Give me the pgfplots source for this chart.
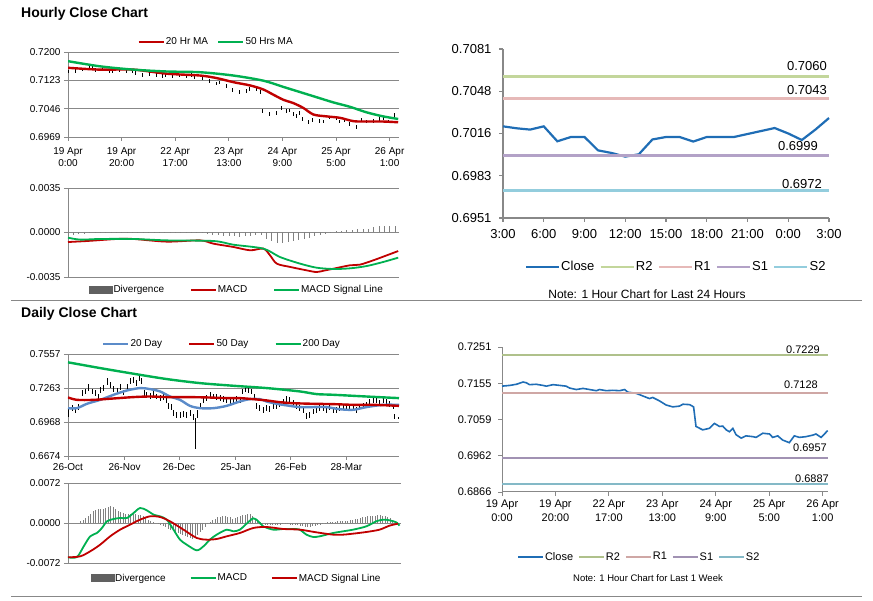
\documentclass[border=0pt]{standalone}
\usepackage{pgfplots}
\pgfplotsset{compat=1.18}
\usepackage{pgfplotstable}
\usepackage{fontspec}
\setmainfont{Liberation Sans}

\definecolor{exRed}{HTML}{C00000}
\definecolor{exGreen}{HTML}{00B050}
\definecolor{dBlue}{HTML}{5B8BC9}
\definecolor{cBlue}{HTML}{1F6DB5}
\definecolor{rTwo}{HTML}{C3D69B}
\definecolor{rOne}{HTML}{E6B9B8}
\definecolor{sOne}{HTML}{B3A2C7}
\definecolor{sTwo}{HTML}{93CDDD}
\definecolor{axGray}{HTML}{888888}
\definecolor{divGray}{HTML}{606060}

\pgfplotstableread{
x y
0 0.7147
2.9 0.7149
5.4 0.7152
7.9 0.7158
9.1 0.7156
10.3 0.7151
12.8 0.7152
15.3 0.7149
16.6 0.7147
19.1 0.7151
21.6 0.7149
24.0 0.7147
25.3 0.7142
27.8 0.7138
30.3 0.7141
32.8 0.7138
35.3 0.7135
36.5 0.7138
39.0 0.7135
41.5 0.7136
44.0 0.7135
45.9 0.7138
47.1 0.7131
50.2 0.7128
52.7 0.7121
55.2 0.7114
56.4 0.7117
58.9 0.7108
61.4 0.7097
63.9 0.7092
66.4 0.7094
67.7 0.7099
70.2 0.7098
71.7 0.7092
72.6 0.7040
75.1 0.7031
77.6 0.7035
79.5 0.7048
81.4 0.7040
82.6 0.7041
83.9 0.7031
85.1 0.7026
86.4 0.7035
87.6 0.7018
89.5 0.7009
91.3 0.7015
93.8 0.7013
95.1 0.7011
97.6 0.7022
100.1 0.7020
101.3 0.7011
103.2 0.7015
105.0 0.7004
107.5 0.6997
109.4 0.7015
111.3 0.7011
113.8 0.7013
116.3 0.7017
117.5 0.7020
119.4 0.7011
121.9 0.7029
}\hourly

\pgfplotstableread{
x y ep em
0.3 0.7059 0.0030 0.0050
1.6 0.7088 0.0025 0.0025
2.9 0.7074 0.0025 0.0025
4.3 0.7097 0.0025 0.0025
5.6 0.7218 0.0030 0.0025
6.9 0.7233 0.0025 0.0025
8.3 0.7270 0.0025 0.0030
9.6 0.7233 0.0025 0.0025
10.9 0.7218 0.0025 0.0025
12.3 0.7189 0.0025 0.0025
12.9 0.7247 0.0025 0.0025
14.3 0.7262 0.0025 0.0025
15.6 0.7320 0.0025 0.0030
16.9 0.7291 0.0025 0.0025
18.3 0.7253 0.0025 0.0025
19.6 0.7241 0.0025 0.0025
20.9 0.7270 0.0025 0.0025
22.3 0.7224 0.0025 0.0025
23.6 0.7270 0.0025 0.0025
24.9 0.7320 0.0025 0.0025
26.3 0.7334 0.0025 0.0025
27.6 0.7305 0.0025 0.0025
28.7 0.7357 0.0025 0.0030
29.6 0.7320 0.0025 0.0025
30.5 0.7218 0.0025 0.0025
31.6 0.7204 0.0025 0.0025
32.9 0.7195 0.0025 0.0025
34.3 0.7212 0.0025 0.0025
35.6 0.7189 0.0025 0.0025
36.9 0.7175 0.0025 0.0025
38.3 0.7184 0.0025 0.0025
39.6 0.7160 0.0025 0.0025
40.3 0.7108 0.0025 0.0025
41.6 0.7102 0.0025 0.0030
42.3 0.7045 0.0025 0.0025
43.6 0.7030 0.0025 0.0025
44.9 0.7030 0.0025 0.0025
46.3 0.7036 0.0025 0.0025
47.6 0.7030 0.0025 0.0025
48.9 0.7045 0.0025 0.0025
50.3 0.7016 0.0025 0.0030
51.1 0.6972 0.0030 0.0240
51.9 0.7045 0.0025 0.0040
52.9 0.7108 0.0025 0.0025
54.3 0.7160 0.0025 0.0025
55.6 0.7175 0.0025 0.0025
56.9 0.7204 0.0025 0.0025
58.3 0.7189 0.0025 0.0025
59.6 0.7184 0.0025 0.0025
60.9 0.7175 0.0025 0.0025
62.3 0.7166 0.0025 0.0025
63.6 0.7160 0.0025 0.0025
64.9 0.7146 0.0025 0.0025
66.3 0.7146 0.0025 0.0030
67.6 0.7166 0.0025 0.0025
68.9 0.7160 0.0025 0.0025
70.0 0.7233 0.0025 0.0025
70.9 0.7253 0.0025 0.0025
72.3 0.7247 0.0025 0.0025
73.6 0.7233 0.0025 0.0025
74.9 0.7189 0.0025 0.0025
75.6 0.7108 0.0025 0.0025
76.9 0.7088 0.0025 0.0025
78.3 0.7074 0.0025 0.0025
79.6 0.7088 0.0025 0.0025
80.9 0.7079 0.0025 0.0025
82.3 0.7108 0.0025 0.0025
83.6 0.7102 0.0025 0.0025
84.9 0.7126 0.0025 0.0025
86.3 0.7146 0.0025 0.0025
87.6 0.7166 0.0025 0.0025
88.9 0.7160 0.0025 0.0025
90.3 0.7131 0.0025 0.0025
91.6 0.7102 0.0025 0.0025
92.9 0.7088 0.0025 0.0025
94.3 0.7074 0.0025 0.0025
95.6 0.7021 0.0025 0.0025
96.9 0.7030 0.0025 0.0025
98.3 0.7059 0.0025 0.0025
99.6 0.7074 0.0025 0.0025
100.9 0.7088 0.0025 0.0025
102.3 0.7088 0.0025 0.0025
103.6 0.7074 0.0025 0.0025
104.9 0.7097 0.0025 0.0025
106.3 0.7074 0.0025 0.0025
107.6 0.7074 0.0025 0.0025
108.9 0.7088 0.0025 0.0025
110.3 0.7102 0.0025 0.0025
111.6 0.7097 0.0025 0.0025
112.9 0.7097 0.0025 0.0025
114.3 0.7088 0.0025 0.0025
115.6 0.7074 0.0025 0.0025
116.9 0.7102 0.0025 0.0025
118.3 0.7108 0.0025 0.0025
119.6 0.7117 0.0025 0.0025
120.9 0.7146 0.0025 0.0025
122.3 0.7160 0.0025 0.0025
123.6 0.7160 0.0025 0.0025
124.9 0.7131 0.0025 0.0025
126.3 0.7155 0.0025 0.0025
127.6 0.7146 0.0025 0.0025
128.9 0.7126 0.0025 0.0025
130.3 0.7102 0.0025 0.0025
130.9 0.7016 0.0025 0.0025
132.3 0.7001 0.0010 0.0010
}\daily

\pgfplotsset{
  base/.style={scale only axis, anchor=south west,
    axis line style={axGray, line width=0.8pt, -},
    tick style={axGray, line width=0.8pt},
    tick align=outside, major tick length=4pt,
    grid style={axGray, line width=0.8pt},
    axis x line*=bottom, axis y line*=left,
    scaled y ticks=false, scaled x ticks=false,
    legend cell align=left,
    legend style={draw=none, fill=none, legend columns=-1, inner sep=0pt,
      nodes={inner sep=1pt}},
  },
  hlbars/.style={draw=none, mark=none, forget plot,
    error bars/y dir=both,
    error bars/error bar style={draw=black, solid, line width=0.7pt},
    error bars/error mark=none},
}

\begin{document}
\begin{tikzpicture}[x=1pt,y=1pt]
\useasboundingbox (0pt,0pt) rectangle (873pt,601pt);

\node[anchor=base west, font=\fontsize{14}{16}\selectfont\bfseries, inner sep=0pt] at (21pt,583.7pt) {Hourly Close Chart};
\node[anchor=base west, font=\fontsize{14}{16}\selectfont\bfseries, inner sep=0pt] at (21pt,283.7pt) {Daily Close Chart};
\draw[axGray, line width=0.8pt] (11pt,301pt) -- (862pt,301pt);
\draw[axGray, line width=0.8pt] (11pt,4.5pt) -- (862pt,4.5pt);

% ---------- Panel 1: hourly MA ----------
\begin{axis}[base, at={(68pt,464pt)}, width=331pt, height=85pt,
  xmin=0, xmax=123.5, ymin=0.6969, ymax=0.7200,
  ytick={0.6969,0.7046,0.7123,0.7200}, yticklabels={0.6969,0.7046,0.7123,0.7200},
  xtick={0,20,40,60,80,100,120},
  xticklabels={{19 Apr\\0:00},{19 Apr\\20:00},{22 Apr\\17:00},{23 Apr\\13:00},{24 Apr\\9:00},{25 Apr\\5:00},{26 Apr\\1:00}},
  ymajorgrids,
  ticklabel style={font=\fontsize{10}{12}\selectfont},
  xticklabel style={align=center, yshift=-3pt},
  legend image code/.code={\draw[#1] (0pt,0pt) -- (25pt,0pt);},
  legend style={at={(0.446,1.118)}, anchor=center, font=\fontsize{10}{12}\selectfont,
    /tikz/every even column/.append style={column sep=8pt}},
]
\addplot[hlbars, error bars/y fixed=0.0005] table[x=x,y=y] {\hourly};
\addplot[exRed, line width=2.4pt, smooth] coordinates {
(0,0.7157) (12.0,0.7152) (24.5,0.7152) (36.9,0.7141) (49.3,0.7136) (55.5,0.7129)
(61.7,0.7118) (68.0,0.7109) (72.9,0.7098) (76.6,0.7084) (80.4,0.7070) (84.1,0.7061)
(87.8,0.7048) (91.6,0.7030) (96.5,0.7025) (101.5,0.7021) (106.5,0.7012) (111.4,0.7011)
(117.6,0.7011) (123.2,0.7009)};
\addlegendentry{20 Hr MA}
\addplot[exGreen, line width=2.4pt, smooth] coordinates {
(0,0.7175) (12.0,0.7161) (24.5,0.7152) (36.9,0.7147) (49.3,0.7145) (61.7,0.7136)
(72.9,0.7122) (80.4,0.7105) (86.6,0.7091) (92.8,0.7077) (99.0,0.7063) (105.2,0.7051)
(111.4,0.7036) (117.6,0.7025) (123.2,0.7018)};
\addlegendentry{50 Hrs MA}
\end{axis}

% ---------- Panel 1b: hourly MACD ----------
\begin{axis}[base, at={(68pt,324pt)}, width=331pt, height=89pt,
  xmin=0, xmax=123.5, ymin=-0.0035, ymax=0.0035,
  ytick={-0.0035,0,0.0035}, yticklabels={-0.0035,0.0000,0.0035},
  xtick=\empty, ymajorgrids,
  ticklabel style={font=\fontsize{10}{12}\selectfont},
  legend image code/.code={\draw[#1] (0pt,0pt) -- (25pt,0pt);},
  legend style={at={(0.509,-0.146)}, anchor=center, font=\fontsize{10}{12}\selectfont,
    /tikz/every even column/.append style={column sep=25pt}},
]
\addplot[ycomb, divGray!80, line width=0.5pt, forget plot] coordinates {
(0,-0.0003) (2,-0.0002) (4,-0.00015) (6,-0.0001) (8,-0.00005) (10,-0.00005) (12,-0.00005)
(14,-0.00005) (16,-0.00005) (18,-0.00005) (20,-0.00005) (22,-0.00005) (24,-0.00005)
(26,-0.00005) (28,-0.00005) (30,-0.00005) (32,-0.00005) (34,-0.00005) (36,-0.00005)
(38,-0.00005) (40,-0.00005) (42,-0.00005) (44,-0.00005) (46,-0.00005) (48,-0.00005)
(50,-0.00005) (52,-0.0001) (54,-0.0002) (56,-0.0002) (58,-0.00025) (60,-0.0003)
(62,-0.0003) (64,-0.00035) (66,-0.0003) (68,-0.0003) (70,-0.0002) (72,-0.0002)
(74,-0.0005) (76,-0.0007) (78,-0.0008) (80,-0.0008) (82,-0.00075) (84,-0.0007)
(86,-0.0006) (88,-0.0005) (90,-0.0004) (92,-0.0003) (94,-0.0002) (96,-0.0001)
(98,0.00005) (100,0.0001) (102,0.00015) (104,0.0002) (106,0.0002) (108,0.00025)
(110,0.0003) (112,0.0003) (114,0.0004) (116,0.0005) (118,0.0005) (120,0.0005) (122,0.0005)};
\addlegendimage{legend image code/.code={\fill[divGray] (0pt,-3.5pt) rectangle (23pt,3.5pt);}}
\addlegendentry{Divergence}
\addplot[exRed, line width=1.8pt, smooth] coordinates {
(0,-0.00075) (7.1,-0.00067) (18.3,-0.00051) (24.5,-0.00051) (36.9,-0.00072) (49.3,-0.00062)
(54.3,-0.00088) (61.7,-0.00114) (68.0,-0.00140) (72.9,-0.00127) (75.4,-0.00180)
(77.9,-0.00245) (82.9,-0.00271) (89.1,-0.00298) (92.8,-0.00311) (95.9,-0.00298)
(99.0,-0.00285) (105.2,-0.00258) (108.9,-0.00253) (113.9,-0.00219) (118.9,-0.00180)
(123.2,-0.00146)};
\addlegendentry{MACD}
\addplot[exGreen, line width=1.8pt, smooth] coordinates {
(0,-0.00041) (4.6,-0.00056) (12.0,-0.00051) (24.5,-0.00051) (36.9,-0.00062) (54.3,-0.00067)
(61.7,-0.00096) (72.9,-0.00127) (79.1,-0.00193) (86.6,-0.00245) (92.8,-0.00277)
(99.0,-0.00287) (105.2,-0.00282) (111.4,-0.00264) (117.6,-0.00232) (123.2,-0.00198)};
\addlegendentry{MACD Signal Line}
\end{axis}

% ---------- Panel 2: last 24 hours ----------
\begin{axis}[base, at={(503pt,383pt)}, width=326pt, height=169pt, clip=false,
  xmin=0, xmax=24, ymin=0.6951, ymax=0.7081,
  axis line style={axGray, line width=1.6pt, -},
  tick style={axGray, line width=1.2pt},
  ytick={0.6951,0.69835,0.7016,0.70485,0.7081},
  yticklabels={0.6951,0.6983,0.7016,0.7048,0.7081},
  xtick={0,3,6,9,12,15,18,21,24},
  xticklabels={3:00,6:00,9:00,12:00,15:00,18:00,21:00,0:00,3:00},
  ticklabel style={font=\fontsize{13}{15}\selectfont},
  yticklabel style={xshift=-4pt},
  xticklabel style={yshift=-4pt},
  legend image code/.code={\draw[#1] (0pt,0pt) -- (33pt,0pt);},
  legend style={at={(0.53,-0.29)}, anchor=center, font=\fontsize{13}{15}\selectfont,
    /tikz/every even column/.append style={column sep=4pt}},
]
\addplot[cBlue, line width=2.2pt] coordinates {
(0,0.70215) (1,0.70200) (2,0.70190) (3,0.70215) (4,0.70100) (5,0.70133) (6,0.70133)
(7,0.70030) (8,0.70010) (9,0.69982) (10,0.70000) (11,0.70114) (12,0.70133) (13,0.70133)
(14,0.70098) (15,0.70133) (16,0.70133) (17,0.70133) (18,0.70156) (19,0.70179)
(20,0.70202) (21,0.70160) (22,0.70110) (23,0.70190) (24,0.70279)};
\addlegendentry{Close}
\addplot[rTwo, line width=2.5pt] coordinates {(0,0.7060) (24,0.7060)};
\addlegendentry{R2}
\addplot[rOne, line width=2.5pt] coordinates {(0,0.7043) (24,0.7043)};
\addlegendentry{R1}
\addplot[sOne, line width=2.5pt] coordinates {(0,0.6999) (24,0.6999)};
\addlegendentry{S1}
\addplot[sTwo, line width=2.5pt] coordinates {(0,0.6972) (24,0.6972)};
\addlegendentry{S2}
\node[anchor=base east, font=\fontsize{13}{15}\selectfont, inner sep=0pt, xshift=-2pt, yshift=6pt] at (axis cs:24,0.7060) {0.7060};
\node[anchor=base east, font=\fontsize{13}{15}\selectfont, inner sep=0pt, xshift=-2pt, yshift=4pt] at (axis cs:24,0.7043) {0.7043};
\node[anchor=base east, font=\fontsize{13}{15}\selectfont, inner sep=0pt, xshift=-11pt, yshift=5pt] at (axis cs:24,0.6999) {0.6999};
\node[anchor=base east, font=\fontsize{13}{15}\selectfont, inner sep=0pt, xshift=-7pt, yshift=2.5pt] at (axis cs:24,0.6972) {0.6972};
\end{axis}
\node[anchor=base, font=\fontsize{12}{14}\selectfont, inner sep=0pt] at (647pt,302.5pt) {Note: 1 Hour Chart for Last 24 Hours};

% ---------- Panel 3: daily ----------
\begin{axis}[base, at={(68pt,145pt)}, width=331pt, height=102pt,
  xmin=0, xmax=132.7, ymin=0.6674, ymax=0.7557,
  ytick={0.6674,0.69683,0.72627,0.7557}, yticklabels={0.6674,0.6968,0.7263,0.7557},
  xtick={0,22.7,44.5,67.3,89.3,111.6},
  xticklabels={26-Oct,26-Nov,26-Dec,25-Jan,26-Feb,28-Mar},
  ymajorgrids,
  ticklabel style={font=\fontsize{10}{12}\selectfont},
  xticklabel style={yshift=0.5pt},
  legend image code/.code={\draw[#1] (0pt,0pt) -- (25pt,0pt);},
  legend style={at={(0.464,1.098)}, anchor=center, font=\fontsize{10}{12}\selectfont,
    /tikz/every even column/.append style={column sep=25pt}},
]
\addplot[hlbars, error bars/y explicit]
  table[x=x, y=y, y error plus=ep, y error minus=em] {\daily};
\addplot[dBlue, line width=2.4pt, smooth] coordinates {
(0,0.7088) (3.6,0.7088) (7.6,0.7126) (12.9,0.7160) (18.3,0.7204) (23.6,0.7241) (28.9,0.7262)
(32.9,0.7253) (36.9,0.7233) (40.9,0.7189) (44.9,0.7160) (48.9,0.7108) (52.9,0.7088)
(58.3,0.7088) (63.6,0.7108) (68.9,0.7146) (72.9,0.7166) (76.9,0.7166) (79.6,0.7146)
(83.6,0.7126) (88.9,0.7108) (92.9,0.7097) (98.3,0.7097) (103.6,0.7097) (108.9,0.7079)
(114.3,0.7074) (119.6,0.7097) (126.3,0.7117) (132.7,0.7117)};
\addlegendentry{20 Day}
\addplot[exRed, line width=2.4pt, smooth] coordinates {
(0,0.7181) (3.6,0.7160) (10.3,0.7160) (18.3,0.7172) (26.3,0.7184) (32.9,0.7189) (39.6,0.7184)
(47.6,0.7184) (55.6,0.7181) (63.6,0.7175) (68.9,0.7175) (74.3,0.7166) (79.6,0.7155)
(84.9,0.7140) (90.3,0.7131) (98.3,0.7126) (106.3,0.7123) (114.3,0.7117) (122.3,0.7117)
(132.7,0.7108)};
\addlegendentry{50 Day}
\addplot[exGreen, line width=2.4pt, smooth] coordinates {
(0,0.7485) (12.9,0.7435) (26.3,0.7386) (39.6,0.7340) (52.9,0.7305) (66.3,0.7282)
(79.6,0.7262) (92.9,0.7233) (99.6,0.7210) (106.3,0.7204) (119.6,0.7189) (132.7,0.7175)};
\addlegendentry{200 Day}
\end{axis}

% ---------- Panel 3b: daily MACD ----------
\begin{axis}[base, at={(68pt,38pt)}, width=333pt, height=80pt,
  xmin=0, xmax=133.5, ymin=-0.0072, ymax=0.0072,
  ytick={-0.0072,0,0.0072}, yticklabels={-0.0072,0.0000,0.0072},
  xtick=\empty, ymajorgrids,
  ticklabel style={font=\fontsize{10}{12}\selectfont},
  legend image code/.code={\draw[#1] (0pt,0pt) -- (25pt,0pt);},
  legend style={at={(0.505,-0.19)}, anchor=center, font=\fontsize{10}{12}\selectfont,
    /tikz/every even column/.append style={column sep=23pt}},
]
\addplot[ycomb, divGray!80, line width=0.5pt, forget plot] coordinates {
(5,0.0003) (6,0.0006) (7,0.0009) (8,0.0012) (9,0.0017) (10,0.0022) (11,0.0024) (12,0.0026)
(13,0.0026) (14,0.0026) (15,0.0027) (16,0.0028) (17,0.0031) (18,0.0028) (19,0.0025)
(20,0.0022) (21,0.0020) (22,0.0018) (23,0.0017) (24,0.0016) (25,0.0016) (26,0.0017)
(27,0.0016) (28,0.0015) (29,0.0014) (30,0.0012) (31,0.0009) (32,0.0006) (33,0.0004)
(34,0.0002) (35,0.0000) (36,-0.0002) (37,-0.0004) (38,-0.0006) (39,-0.0008) (40,-0.0010)
(41,-0.0012) (42,-0.0014) (43,-0.0016) (44,-0.0018) (45,-0.0020) (46,-0.0022) (47,-0.0024)
(48,-0.0026) (49,-0.0027) (50,-0.0028) (51,-0.0026) (52,-0.0022) (53,-0.0017) (54,-0.0012)
(55,-0.0007) (56,-0.0002) (57,0.0002) (58,0.0006) (59,0.0008) (60,0.0010) (61,0.0011)
(62,0.0012) (63,0.0012) (64,0.0011) (65,0.0010) (66,0.0008) (67,0.0009) (68,0.0010)
(69,0.0012) (70,0.0014) (71,0.0015) (72,0.0016) (73,0.0016) (74,0.0012) (75,0.0008)
(76,0.0004) (77,0.0001) (78,-0.0002) (79,-0.0003) (80,-0.0004) (81,-0.0004) (82,-0.0004)
(83,-0.0004) (84,-0.0003) (85,-0.0003) (86,-0.0002) (87,-0.0002) (88,-0.0002) (89,-0.0003)
(90,-0.0003) (91,-0.0004) (92,-0.0004) (93,-0.0005) (94,-0.0006) (95,-0.0007) (96,-0.0007)
(97,-0.0007) (98,-0.0006) (99,-0.0005) (100,-0.0004) (101,-0.0003) (102,-0.0002)
(103,-0.0001) (104,0.0001) (105,0.0001) (106,0.0002) (107,0.0002) (108,0.0003) (109,0.0003)
(110,0.0003) (111,0.0003) (112,0.0004) (113,0.0005) (114,0.0006) (115,0.0007) (116,0.0008)
(117,0.0009) (118,0.0010) (119,0.0011) (120,0.0012) (121,0.0012) (122,0.0013) (123,0.0013)
(124,0.0014) (125,0.0014) (126,0.0013) (127,0.0012) (128,0.0011) (129,0.0009) (130,0.0006)
(131,0.0004) (132,0.0002)};
\addlegendimage{legend image code/.code={\fill[divGray] (0pt,-3.5pt) rectangle (23pt,3.5pt);}}
\addlegendentry{Divergence}
\addplot[exGreen, line width=1.8pt, smooth] coordinates {
(0,-0.00618) (3.6,-0.00612) (6.3,-0.00420) (8.9,-0.00240) (11.6,-0.00180) (13.6,-0.00090)
(15.6,0.00030) (18.3,0.00072) (20.9,0.00090) (23.6,0.00090) (26.3,0.00180) (28.9,0.00270)
(31.6,0.00228) (34.3,0.00150) (36.9,0.00120) (39.6,0.00060) (42.3,-0.00120) (44.9,-0.00300)
(47.6,-0.00390) (51.6,-0.00492) (54.3,-0.00420) (56.9,-0.00300) (59.6,-0.00210)
(63.6,-0.00120) (66.3,-0.00150) (68.9,-0.00120) (71.6,-0.00012) (74.3,0.00084)
(76.3,0.00030) (78.3,-0.00060) (82.3,-0.00120) (86.3,-0.00108) (90.3,-0.00108)
(92.9,-0.00120) (95.6,-0.00210) (98.3,-0.00252) (100.9,-0.00240) (103.6,-0.00210)
(106.3,-0.00180) (110.3,-0.00150) (114.3,-0.00120) (119.6,-0.00060) (123.6,0.00030)
(126.3,0.00060) (128.9,0.00048) (131.6,0.00012) (132.9,-0.00048)};
\addlegendentry{MACD}
\addplot[exRed, line width=1.8pt, smooth] coordinates {
(0,-0.00618) (4.9,-0.00600) (8.9,-0.00510) (12.9,-0.00390) (16.9,-0.00240) (20.9,-0.00120)
(24.9,-0.00030) (28.9,0.00060) (32.9,0.00120) (36.9,0.00108) (40.9,0.00030) (46.3,-0.00120)
(51.6,-0.00270) (55.6,-0.00300) (59.6,-0.00288) (63.6,-0.00240) (68.9,-0.00180)
(74.3,-0.00090) (79.6,-0.00072) (86.3,-0.00108) (92.9,-0.00120) (99.6,-0.00168)
(106.3,-0.00210) (110.3,-0.00210) (114.3,-0.00192) (119.6,-0.00162) (124.9,-0.00120)
(128.9,-0.00048) (132.3,-0.00012)};
\addlegendentry{MACD Signal Line}
\end{axis}

% ---------- Panel 4: last week ----------
\begin{axis}[base, at={(502pt,109pt)}, width=326pt, height=145pt, clip=false,
  xmin=0, xmax=122, ymin=0.6866, ymax=0.7251,
  axis line style={axGray, line width=1pt, -},
  ytick={0.6866,0.696225,0.70585,0.715475,0.7251},
  yticklabels={0.6866,0.6962,0.7059,0.7155,0.7251},
  xtick={0,20,40,60,80,100,120},
  xticklabels={{19 Apr\\0:00},{19 Apr\\20:00},{22 Apr\\17:00},{23 Apr\\13:00},{24 Apr\\9:00},{25 Apr\\5:00},{26 Apr\\1:00}},
  ticklabel style={font=\fontsize{11}{14}\selectfont},
  yticklabel style={xshift=-3pt},
  xticklabel style={align=center},
  legend image code/.code={\draw[#1] (0pt,0pt) -- (25pt,0pt);},
  legend style={at={(0.42,-0.448)}, anchor=center, font=\fontsize{11}{13}\selectfont,
    /tikz/every even column/.append style={column sep=4pt}},
]
\addplot[cBlue, line width=1.6pt] table[x=x,y=y] {\hourly};
\addlegendentry{Close}
\addplot[rTwo!90!black, line width=1.8pt] coordinates {(0,0.7229) (122,0.7229)};
\addlegendentry{R2}
\addplot[rOne!90!black, line width=1.8pt] coordinates {(0,0.7128) (122,0.7128)};
\addlegendentry{R1}
\addplot[sOne!90!black, line width=1.8pt] coordinates {(0,0.6957) (122,0.6957)};
\addlegendentry{S1}
\addplot[sTwo!90!black, line width=1.8pt] coordinates {(0,0.6887) (122,0.6887)};
\addlegendentry{S2}
\node[anchor=base east, font=\fontsize{11}{13}\selectfont, inner sep=0pt, xshift=-8pt, yshift=2pt] at (axis cs:122,0.7229) {0.7229};
\node[anchor=base east, font=\fontsize{11}{13}\selectfont, inner sep=0pt, xshift=-10pt, yshift=5pt] at (axis cs:122,0.7128) {0.7128};
\node[anchor=base east, font=\fontsize{11}{13}\selectfont, inner sep=0pt, xshift=-1pt, yshift=6pt] at (axis cs:122,0.6957) {0.6957};
\node[anchor=base east, font=\fontsize{11}{13}\selectfont, inner sep=0pt, xshift=1pt, yshift=2pt] at (axis cs:122,0.6887) {0.6887};
\end{axis}
\node[anchor=center, font=\fontsize{9.5}{11}\selectfont, inner sep=0pt] at (648pt,23pt) {Note: 1 Hour Chart for Last 1 Week};

\end{tikzpicture}
\end{document}
